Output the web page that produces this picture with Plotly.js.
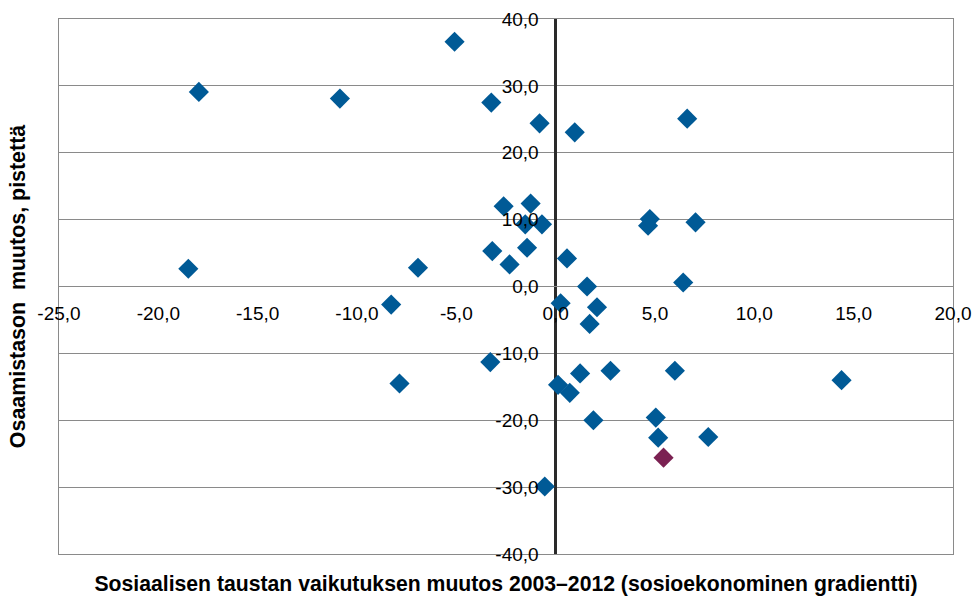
<!DOCTYPE html>
<html>
<head>
<meta charset="utf-8">
<script src="https://cdn.plot.ly/plotly-3.0.1.min.js"></script>
<style>html,body{margin:0;padding:0;background:#fff;}#chart{width:973px;height:603px;}</style>
</head>
<body>
<div id="chart"></div>
<script>
// Change in socio-economic gradient 2003–2012 (x) vs change in performance, points (y)
const countryX = [-17.96, -18.49, -10.86, -8.28, -7.86, -6.93, -5.09, -3.24, -3.19, -3.29,
                  -2.62, -2.32, -1.53, -1.44, -1.26, -0.81, -0.69, -0.55, 0.25, 0.12,
                  0.57, 0.71, 0.96, 1.23, 1.58, 1.71, 1.90, 2.08, 2.76, 4.65,
                  4.74, 5.04, 5.16, 6.00, 6.42, 6.62, 7.04, 7.68, 14.39];
const countryY = [29.1, 2.65, 28.1, -2.7, -14.5, 2.8, 36.6, 27.5, 5.3, -11.3,
                  12.0, 3.3, 9.3, 5.8, 12.4, 24.4, 9.3, -29.9, -2.5, -14.7,
                  4.2, -15.9, 23.05, -13.0, 0.0, -5.6, -20.0, -3.1, -12.6, 9.1,
                  10.1, -19.6, -22.6, -12.6, 0.6, 25.1, 9.6, -22.5, -14.0];
const finlandX = [5.43];
const finlandY = [-25.6];

const xTickVals = [-25, -20, -15, -10, -5, 0, 5, 10, 15, 20];
const xTickText = ["-25,0", "-20,0", "-15,0", "-10,0", "-5,0", "0,0", "5,0", "10,0", "15,0", "20,0"];
const yTickVals = [-40, -30, -20, -10, 0, 10, 20, 30, 40];
const yTickText = ["-40,0", "-30,0", "-20,0", "-10,0", "0,0", "10,0", "20,0", "30,0", "40,0"];

const xTitle = "Sosiaalisen taustan vaikutuksen muutos 2003–2012 (sosioekonominen gradientti)";
const yTitle = "Osaamistason  muutos, pistettä";

const gridCol = "#8a8a8a";
const tickFont = {family: "Liberation Sans, Arial, sans-serif", size: 19, color: "#000"};
const titleFontX = {family: "Liberation Sans, Arial, sans-serif", size: 21.2, color: "#000", weight: 700};
const titleFontY = {family: "Liberation Sans, Arial, sans-serif", size: 21.4, color: "#000", weight: 700};

const data = [
  {type: "scatter", mode: "markers", x: countryX, y: countryY, name: "Maat",
   xaxis: "x", yaxis: "y",
   marker: {symbol: "diamond", size: 15.5, color: "#005a96"}, hoverinfo: "x+y"},
  {type: "scatter", mode: "markers", x: finlandX, y: finlandY, name: "Suomi",
   xaxis: "x2", yaxis: "y2",
   marker: {symbol: "diamond", size: 15.5, color: "#7b2152"}, hoverinfo: "x+y"}
];

const layout = {
  width: 973, height: 603,
  margin: {l: 59, r: 20, t: 19, b: 49, autoexpand: false},
  paper_bgcolor: "#fff", plot_bgcolor: "#fff",
  showlegend: false,
  xaxis: {
    range: [-25, 20], anchor: "y", side: "bottom",
    showticklabels: false, ticks: "", showgrid: false,
    zeroline: true, zerolinecolor: "#2a2a2a", zerolinewidth: 3,
    showline: true, mirror: true, linecolor: gridCol, linewidth: 1,
    title: {text: xTitle, font: titleFontX, standoff: 22},
    automargin: false, fixedrange: true
  },
  yaxis: {
    range: [-40, 40], anchor: "x", side: "left",
    showticklabels: false, ticks: "",
    tickvals: yTickVals, showgrid: true, gridcolor: gridCol, gridwidth: 1,
    zeroline: true, zerolinecolor: gridCol, zerolinewidth: 1,
    showline: true, mirror: true, linecolor: gridCol, linewidth: 1,
    title: {text: yTitle, font: titleFontY, standoff: 26},
    automargin: false, fixedrange: true
  },
  xaxis2: {
    range: [-25, 20], overlaying: "x", anchor: "free", position: 0.5, side: "bottom",
    tickvals: xTickVals, ticktext: xTickText, tickfont: tickFont,
    ticks: "", showgrid: false, zeroline: false, showline: false,
    ticklabelstandoff: 13, automargin: false, fixedrange: true
  },
  yaxis2: {
    range: [-40, 40], overlaying: "y", anchor: "free", position: 25 / 45, side: "left",
    tickvals: yTickVals, ticktext: yTickText, tickfont: tickFont,
    ticks: "", showgrid: false, zeroline: false, showline: false,
    ticklabelstandoff: 17, automargin: false, fixedrange: true
  }
};

Plotly.newPlot("chart", data, layout, {staticPlot: true, displayModeBar: false});
</script>
</body>
</html>
